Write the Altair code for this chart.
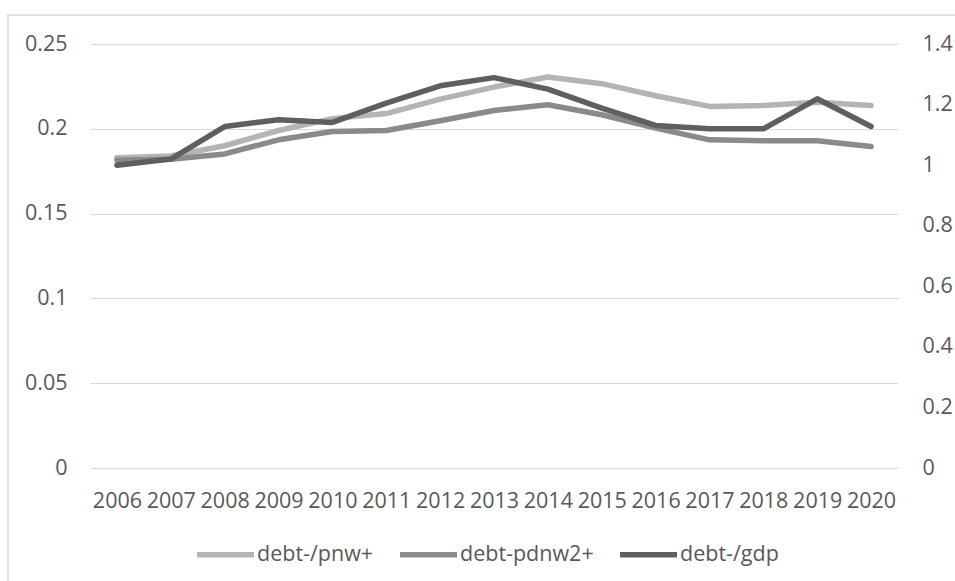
import altair as alt
import pandas as pd

years = [str(y) for y in range(2006, 2021)]
pnw = [0.183, 0.184, 0.190, 0.199, 0.206, 0.209, 0.2175, 0.2246, 0.2305,
       0.2266, 0.2195, 0.2132, 0.2137, 0.2157, 0.2137]
pdnw2 = [0.1815, 0.182, 0.1852, 0.1935, 0.1984, 0.199, 0.2047, 0.2108, 0.2142,
         0.2083, 0.2004, 0.1935, 0.1929, 0.1929, 0.1895]
gdp = [1.00, 1.02, 1.1275, 1.150, 1.141, 1.205, 1.262, 1.289, 1.251,
       1.188, 1.131, 1.12, 1.12, 1.219, 1.1275]
series_names = ["debt-/pnw+", "debt-pdnw2+", "debt-/gdp"]
colors = ["#b4b4b4", "#8a8a8a", "#5f5f5f"]
left_ticks = [0, 0.05, 0.1, 0.15, 0.2, 0.25]
right_ticks = [0, 0.2, 0.4, 0.6, 0.8, 1.0, 1.2, 1.4]

rows_left = []
for name, vals in [(series_names[0], pnw), (series_names[1], pdnw2)]:
    for yr, v in zip(years, vals):
        rows_left.append({"year": yr, "value": v, "series": name})
df_left = pd.DataFrame(rows_left)
df_right = pd.DataFrame({"year": years, "value": gdp, "series": series_names[2]})

FONT = "Open Sans"
TXT = "#595959"
FS = 21.5

color = alt.Color(
    "series:N",
    scale=alt.Scale(domain=series_names, range=colors),
    legend=alt.Legend(
        title=None, orient="none", direction="horizontal",
        legendX=104, legendY=479,
        symbolType="stroke", symbolSize=3249, symbolStrokeWidth=5.5,
        labelFontSize=FS, labelColor=TXT, labelFont=FONT,
        columnPadding=15, labelOffset=0,
    ),
)

x = alt.X(
    "year:O", sort=years,
    scale=alt.Scale(type="point", padding=0.5),
    axis=alt.Axis(title=None, labelAngle=0, ticks=False, domain=False,
                  labelPadding=22, grid=False),
)

line_kw = dict(strokeWidth=5.5, strokeCap="round", strokeJoin="round")

left = alt.Chart(df_left).mark_line(**line_kw).encode(
    x=x,
    y=alt.Y("value:Q", scale=alt.Scale(domain=[0, 0.25], nice=False, zero=True),
            axis=alt.Axis(values=left_ticks, format="~g", title=None, grid=True,
                          gridColor="#d9d9d9", gridWidth=1, domain=False,
                          ticks=False, labelPadding=23, orient="left")),
    color=color,
    order=alt.Order("year:O"),
)

right = alt.Chart(df_right).mark_line(**line_kw).encode(
    x=x,
    y=alt.Y("value:Q", scale=alt.Scale(domain=[0, 1.4], nice=False, zero=True),
            axis=alt.Axis(values=right_ticks, format="~g", title=None, grid=False,
                          domain=False, ticks=False, labelPadding=24,
                          orient="right")),
    color=color,
)

border = alt.Chart(pd.DataFrame({"k": [0]})).mark_rect(
    fillOpacity=0, stroke="#d9d9d9", strokeWidth=1.5
).encode(
    x=alt.value(-82), y=alt.value(-29), x2=alt.value(1000), y2=alt.value(700)
)

chart = alt.layer(border, left, right).resolve_scale(
    y="independent"
).properties(
    width=808, height=424,
    autosize=alt.AutoSizeParams(type="none"),
    padding={"left": 90, "top": 44, "right": 57, "bottom": 113},
    background="white",
).configure_view(strokeWidth=0).configure_axis(
    labelFont=FONT, labelFontSize=FS, labelColor=TXT,
)

chart.save("out.html", embed_options={"renderer": "svg", "actions": False})
